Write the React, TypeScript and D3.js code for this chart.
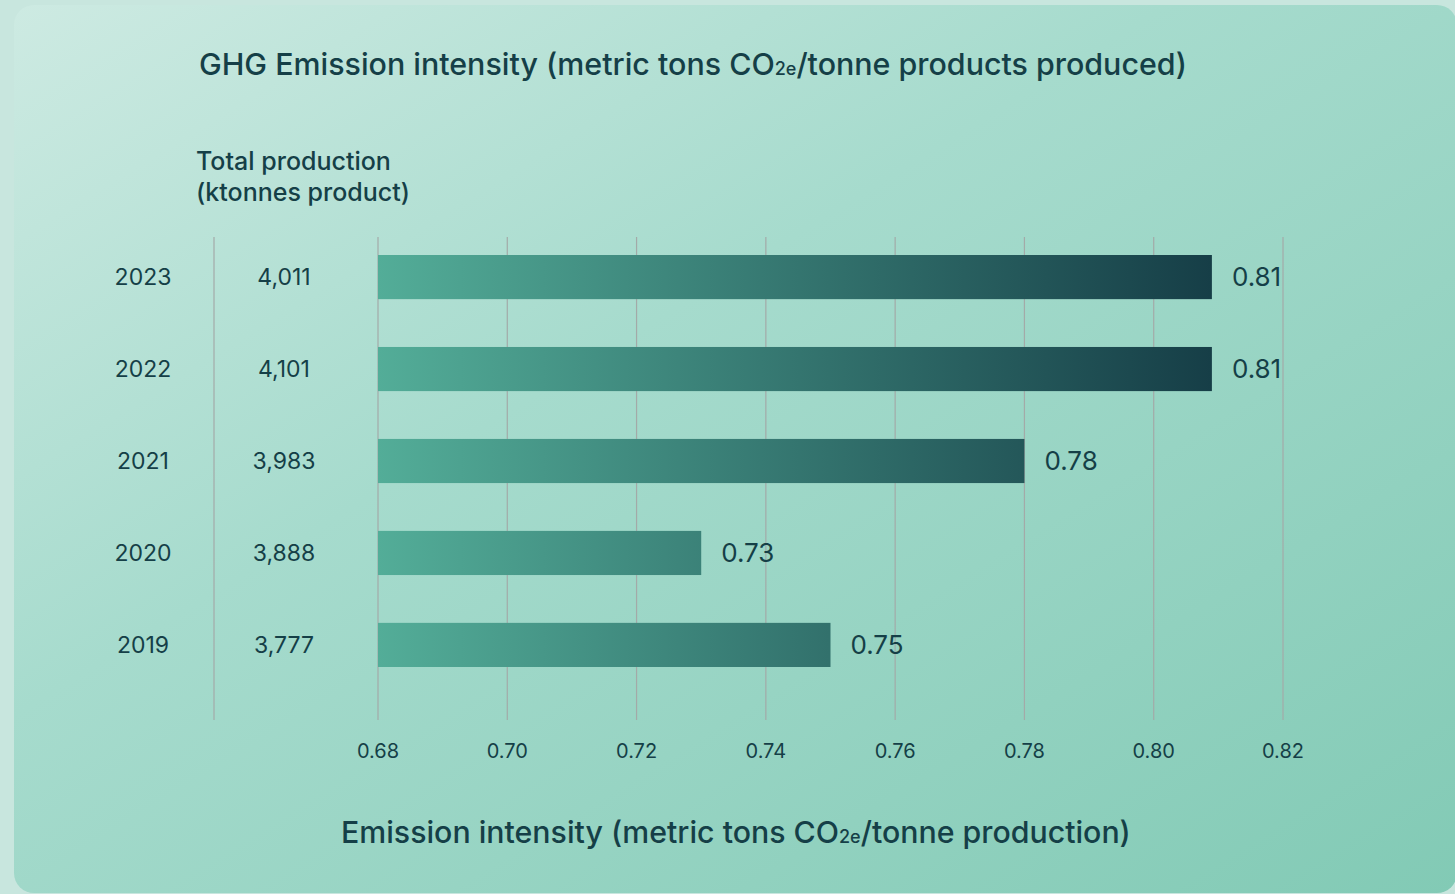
import { useEffect, useRef } from 'react'
import * as d3 from 'd3'

const YEARS = ['2023', '2022', '2021', '2020', '2019']
const PRODUCTION = [4011, 4101, 3983, 3888, 3777]
const INTENSITY = [0.809, 0.809, 0.78, 0.73, 0.75]
const INTENSITY_LABELS = ['0.81', '0.81', '0.78', '0.73', '0.75']
const X_TICKS = [0.68, 0.7, 0.72, 0.74, 0.76, 0.78, 0.8, 0.82]

const W = 1455
const H = 894
const INK = '#153f47'
const FONT = 'Inter, "Noto Sans", sans-serif'

export default function App() {
  const ref = useRef<SVGSVGElement | null>(null)

  useEffect(() => {
    if (!ref.current) return
    const svg = d3.select(ref.current)
    svg.selectAll('*').remove()

    const defs = svg.append('defs')
    const bg = defs
      .append('linearGradient')
      .attr('id', 'card-bg')
      .attr('x1', 0)
      .attr('y1', 0)
      .attr('x2', 1)
      .attr('y2', 1)
    bg.append('stop').attr('offset', '0%').attr('stop-color', '#cdeae2')
    bg.append('stop').attr('offset', '40%').attr('stop-color', '#a6dbcd')
    bg.append('stop').attr('offset', '100%').attr('stop-color', '#82cab5')

    // page + card
    svg.append('rect').attr('width', W).attr('height', H).attr('fill', '#c8e6de')
    svg
      .append('rect')
      .attr('x', 14)
      .attr('y', 5)
      .attr('width', 1443)
      .attr('height', 888)
      .attr('rx', 20)
      .attr('fill', 'url(#card-bg)')

    const x = d3.scaleLinear().domain([0.68, 0.82]).range([378, 1283])
    const y = d3.scaleBand().domain(YEARS).range([255, 667]).paddingInner(0.52)
    const plotTop = 237
    const plotBottom = 720

    const barGrad = defs
      .append('linearGradient')
      .attr('id', 'bar-grad')
      .attr('gradientUnits', 'userSpaceOnUse')
      .attr('x1', x(0.68))
      .attr('x2', x(d3.max(INTENSITY) as number))
      .attr('y1', 0)
      .attr('y2', 0)
    barGrad.append('stop').attr('offset', '0%').attr('stop-color', '#53ad98')
    barGrad.append('stop').attr('offset', '100%').attr('stop-color', '#163e47')

    // title
    const title = svg
      .append('text')
      .attr('x', 199)
      .attr('y', 75)
      .attr('fill', INK)
      .attr('font-family', FONT)
      .attr('font-size', 30.4)
      .attr('font-weight', 500)
    title.append('tspan').text('GHG Emission intensity (metric tons CO')
    title.append('tspan').attr('font-size', 18).text('2e')
    title.append('tspan').text('/tonne products produced)')

    // column header
    const head = svg
      .append('text')
      .attr('fill', INK)
      .attr('font-family', FONT)
      .attr('font-size', 25)
      .attr('font-weight', 500)
    head.append('tspan').attr('x', 196).attr('y', 170).text('Total production')
    head.append('tspan').attr('x', 196).attr('y', 201).text('(ktonnes product)')

    // grid lines
    svg
      .append('g')
      .selectAll('line')
      .data(X_TICKS)
      .join('line')
      .attr('x1', (d) => x(d))
      .attr('x2', (d) => x(d))
      .attr('y1', plotTop)
      .attr('y2', plotBottom)
      .attr('stroke', '#a3aaa8')
      .attr('stroke-width', 1.2)

    svg
      .append('line')
      .attr('x1', 214)
      .attr('x2', 214)
      .attr('y1', plotTop)
      .attr('y2', plotBottom)
      .attr('stroke', '#a3aaa8')
      .attr('stroke-width', 1.2)

    // tick labels
    svg
      .append('g')
      .selectAll('text')
      .data(X_TICKS)
      .join('text')
      .attr('x', (d) => x(d))
      .attr('y', 758)
      .attr('text-anchor', 'middle')
      .attr('fill', INK)
      .attr('font-family', FONT)
      .attr('font-size', 20)
      .text((d) => d.toFixed(2))

    // bars
    svg
      .append('g')
      .selectAll('rect')
      .data(INTENSITY)
      .join('rect')
      .attr('x', x(0.68))
      .attr('y', (_, i) => y(YEARS[i]) as number)
      .attr('width', (d) => x(d) - x(0.68))
      .attr('height', y.bandwidth())
      .attr('fill', 'url(#bar-grad)')

    const mid = (i: number) => (y(YEARS[i]) as number) + y.bandwidth() / 2

    // value labels
    svg
      .append('g')
      .selectAll('text')
      .data(INTENSITY)
      .join('text')
      .attr('x', (d) => x(d) + 20)
      .attr('y', (_, i) => mid(i))
      .attr('dy', '0.35em')
      .attr('fill', INK)
      .attr('font-family', FONT)
      .attr('font-size', 26)
      .text((_, i) => INTENSITY_LABELS[i])

    // year labels
    svg
      .append('g')
      .selectAll('text')
      .data(YEARS)
      .join('text')
      .attr('x', 143)
      .attr('y', (_, i) => mid(i))
      .attr('dy', '0.35em')
      .attr('text-anchor', 'middle')
      .attr('fill', INK)
      .attr('font-family', FONT)
      .attr('font-size', 23)
      .text((d) => d)

    // production labels
    svg
      .append('g')
      .selectAll('text')
      .data(PRODUCTION)
      .join('text')
      .attr('x', 284)
      .attr('y', (_, i) => mid(i))
      .attr('dy', '0.35em')
      .attr('text-anchor', 'middle')
      .attr('fill', INK)
      .attr('font-family', FONT)
      .attr('font-size', 23)
      .text((d) => d3.format(',')(d))

    // x axis title
    const xt = svg
      .append('text')
      .attr('x', 341)
      .attr('y', 843)
      .attr('fill', INK)
      .attr('font-family', FONT)
      .attr('font-size', 30.3)
      .attr('font-weight', 500)
    xt.append('tspan').text('Emission intensity (metric tons CO')
    xt.append('tspan').attr('font-size', 18).text('2e')
    xt.append('tspan').text('/tonne production)')
  }, [])

  return (
    <svg
      ref={ref}
      width={W}
      height={H}
      style={{ position: 'absolute', left: 0, top: 0, display: 'block' }}
    />
  )
}
